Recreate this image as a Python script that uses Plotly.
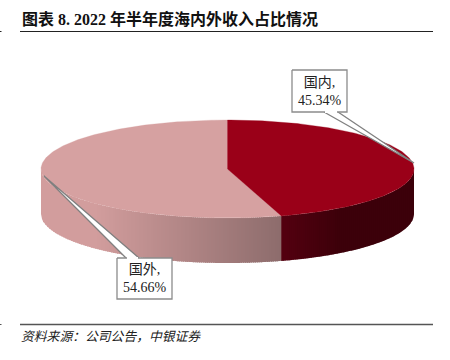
import numpy as np
import plotly.graph_objects as go

categories = ["国内", "国外"]
values = [45.34, 54.66]
title_text = "图表 8. 2022 年半年度海内外收入占比情况"
source_text = "资料来源：公司公告，中银证券"

CX, CY, A, B, DEPTH = 227.5, 169.0, 186.5, 49.0, 45.0
TOP_COLORS = ["#9A0018", "#D6A1A1"]


def ell(theta):
    return CX + A * np.sin(theta), CY - B * np.cos(theta)


def front_y(x):
    return CY + B * np.sqrt(np.clip(1 - ((x - CX) / A) ** 2, 0, 1))


def lerp(c1, c2, t):
    return "rgb(%d,%d,%d)" % tuple(round(a + (b - a) * t) for a, b in zip(c1, c2))


fig = go.Figure()
split = 2 * np.pi * values[0] / sum(values)
split_x = ell(split)[0]


def add_poly(xs, ys, color, line=None, width=0.0):
    fig.add_trace(go.Scatter(
        x=list(xs), y=list(ys), mode="lines", fill="toself", fillcolor=color,
        line=dict(color=line or color, width=width), hoverinfo="skip", showlegend=False))


# Side wall: overlapping vertical strips, painted left to right
edges = np.r_[np.arange(CX - A, split_x, 2.0), split_x, np.arange(split_x + 2, CX + A, 2.0), CX + A]
for x0, x1 in zip(edges[:-1], edges[1:]):
    xn = x1 if x1 == split_x or x1 == CX + A else min(x1 + 1.0, CX + A)
    mx = (x0 + x1) / 2
    if mx > split_x:
        f = min(max((mx - split_x) / 60, 0), 1)
        col = lerp((84, 0, 16), (60, 0, 10), f)
    else:
        f = min(max((split_x - mx) / (split_x - 95), 0), 1)
        col = lerp((141, 108, 108), (210, 157, 157), f)
    xs = np.linspace(x0, xn, 4)
    top = front_y(xs)
    add_poly(np.r_[xs, xs[::-1]], np.r_[top, (top + DEPTH)[::-1]], col)

# Top face wedges, built from the values
t_a = np.linspace(0, split, 200)
t_b = np.linspace(split, 2 * np.pi, 240)
for th, col in ((t_b, TOP_COLORS[1]), (t_a, TOP_COLORS[0])):
    ex, ey = ell(th)
    add_poly(np.r_[CX, ex, CX], np.r_[CY, ey, CY], col, width=0.3)

# Callouts
callouts = [
    dict(box=(292, 70, 347, 112), base=(324, 338), by=112, tip=(414, 163), i=0),
    dict(box=(117, 258, 172, 299), base=(126, 139), by=258, tip=(44, 176), i=1),
]
for c in callouts:
    l, t, r, b = c["box"]
    add_poly([c["base"][0], c["tip"][0], c["base"][1]], [c["by"], c["tip"][1], c["by"]],
             "white", line="#808080", width=1.3)
    add_poly([l, r, r, l, l], [t, t, b, b, t], "white", line="#8C8C8C", width=1.3)
    add_poly([c["base"][0] + 1, c["base"][1] - 1, c["base"][1] - 1, c["base"][0] + 1],
             [c["by"] - 1, c["by"] - 1, c["by"] + 1, c["by"] + 1], "white", width=0)
    fig.add_annotation(
        x=(l + r) / 2, y=(t + b) / 2, xref="x", yref="y", showarrow=False, align="center",
        text=f"{categories[c['i']]},<br>{values[c['i']]:.2f}%",
        font=dict(family="Liberation Serif, Noto Sans CJK SC", size=14, color="#222222"))

fig.add_annotation(
    x=20, y=19, xref="x", yref="y", xanchor="left", yanchor="middle", showarrow=False,
    text=f"<b>{title_text}</b>",
    font=dict(family="Liberation Serif, Noto Sans CJK SC", size=16, color="#111111"))
fig.add_annotation(
    x=19, y=335, xref="x", yref="y", xanchor="left", yanchor="middle", showarrow=False,
    text=f"<i>{source_text}</i>",
    font=dict(family="Noto Sans CJK SC", size=12.8, color="#222222"))

for y0, w, col in ((31.5, 1, "#222222"), (324.5, 1.4, "#555555")):
    fig.add_shape(type="line", x0=20, x1=433, y0=y0, y1=y0, xref="x", yref="y",
                  line=dict(color=col, width=w))
    fig.add_shape(type="line", x0=0, x1=1.5, y0=y0, y1=y0, xref="x", yref="y",
                  line=dict(color=col, width=1))

fig.update_layout(
    width=450, height=360, margin=dict(l=0, r=0, t=0, b=0),
    paper_bgcolor="white", plot_bgcolor="white", showlegend=False,
    xaxis=dict(range=[0, 450], visible=False, fixedrange=True),
    yaxis=dict(range=[360, 0], visible=False, fixedrange=True),
)
fig.write_html("out.html", config=dict(displayModeBar=False),
               post_script="document.body.style.margin='0';document.body.style.overflow='hidden';")
